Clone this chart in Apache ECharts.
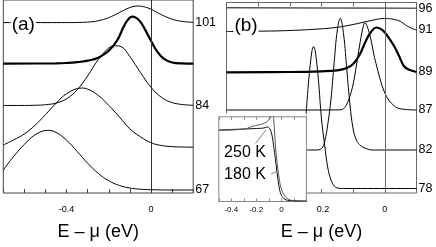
<!DOCTYPE html>
<html><head><meta charset="utf-8">
<script src="https://cdn.jsdelivr.net/npm/echarts/dist/echarts.min.js"></script>
<style>html,body{margin:0;padding:0;background:#fff}#c{width:436px;height:247px}</style>
</head><body><div id="c"></div>
<script>
// ---- Panel (a): spectra, [E - mu (eV), offset intensity (a.u.)] ----
const a101 = [[-0.7,171.3],[-0.4,171.3],[-0.35,171.4],[-0.3,171.8],[-0.25,173.1],[-0.2,176.3],[-0.15,181.4],[-0.1,186.4],[-0.06,188.0],[-0.02,186.4],[0,184.7],[0.05,179.2],[0.1,174.7],[0.15,172.4],[0.2,171.6]];
const aThick = [[-0.7,130],[-0.45,130.3],[-0.4,130.7],[-0.35,131.5],[-0.3,133],[-0.25,136],[-0.2,143],[-0.16,153.5],[-0.13,167],[-0.11,174],[-0.09,177.3],[-0.07,176],[-0.05,172],[-0.03,165],[0,153],[0.03,142],[0.06,135],[0.1,131.2],[0.15,130.2],[0.2,130]];
const a84 = [[-0.7,88],[-0.6,88],[-0.55,88.2],[-0.5,88.7],[-0.45,90.4],[-0.4,94.7],[-0.35,103.7],[-0.3,117.8],[-0.25,134.1],[-0.2,145.8],[-0.17,148],[-0.14,147],[-0.1,137],[-0.05,121.1],[0,106.2],[0.05,96.1],[0.1,90.9],[0.15,88.9],[0.2,88.2]];
const aMid = [[-0.7,48.2],[-0.65,53.5],[-0.6,59.4],[-0.55,68],[-0.5,78.8],[-0.45,90.2],[-0.4,99.8],[-0.33,105.5],[-0.3,104.4],[-0.25,98.1],[-0.2,88],[-0.15,76.5],[-0.1,64.5],[-0.05,56.5],[0,50.5],[0.05,47.7],[0.1,46.6],[0.15,46.2],[0.2,46]];
const a67 = [[-0.7,23],[-0.65,37],[-0.6,48.9],[-0.55,58.4],[-0.49,63],[-0.45,60.9],[-0.4,53.1],[-0.35,41.8],[-0.3,29.9],[-0.25,19.7],[-0.2,12.3],[-0.15,7.6],[-0.1,5],[-0.05,3.8],[0,3.3],[0.1,3],[0.2,3]];

// ---- Panel (b) ----
const b96 = [[-0.5,185.2],[-0.2,185],[0,184.9],[0.1,184.8]];
const b91 = [[-0.5,161.5],[-0.4,161.8],[-0.3,162.5],[-0.2,164.2],[-0.15,165.7],[-0.1,168.5],[-0.05,172],[0,174.5],[0.03,173.5],[0.05,171.5],[0.065,168],[0.09,164],[0.1,163]];
const b89 = [[-0.5,120.7],[-0.3,121],[-0.2,121.7],[-0.15,122.7],[-0.12,125],[-0.1,129],[-0.08,138],[-0.06,152],[-0.045,160.5],[-0.026,165.5],[-0.01,163.5],[0,160.5],[0.015,154],[0.03,146.5],[0.045,137],[0.06,127],[0.075,123.5],[0.1,121]];
const b87 = [[-0.5,83],[-0.2,83],[-0.14,83.2],[-0.13,84.5],[-0.12,89],[-0.11,97],[-0.1,109],[-0.09,127],[-0.08,147],[-0.07,164],[-0.063,170.3],[-0.055,166],[-0.045,155],[-0.035,139],[-0.025,126],[-0.015,114],[-0.005,104],[0.01,94],[0.025,88.5],[0.045,84.5],[0.1,83]];
const b82 = [[-0.5,43],[-0.22,43],[-0.2,44.5],[-0.19,51.5],[-0.18,69],[-0.17,94],[-0.16,130.5],[-0.15,163],[-0.141,174.7],[-0.13,158],[-0.12,123],[-0.11,88],[-0.1,64],[-0.09,53],[-0.08,48.5],[-0.07,46],[-0.055,44],[-0.04,43],[0.1,43]];
const b78 = [[-0.5,4.5],[-0.3,4.7],[-0.28,9],[-0.27,18],[-0.26,39],[-0.25,74],[-0.24,114],[-0.23,142.3],[-0.225,146.3],[-0.22,142.3],[-0.21,114],[-0.2,74],[-0.19,48],[-0.18,25],[-0.17,13],[-0.16,7],[-0.15,5],[-0.13,4.5],[0.1,4.5]];

// ---- Inset ----
const ins180 = [[-0.5,71.5],[-0.3,72.5],[-0.2,73],[-0.14,73.5],[-0.112,74.5],[-0.094,73],[-0.077,67.5],[-0.059,52.8],[-0.045,39.5],[-0.031,25.5],[-0.018,14.5],[-0.004,7.5],[0.02,3],[0.061,1],[0.2,0.5]];
const ins250 = [[-0.5,71],[-0.289,72.5],[-0.248,74.5],[-0.207,76],[-0.167,77],[-0.134,78.5],[-0.11,80.5],[-0.09,83.5],[-0.077,88.5],[-0.069,90],[-0.061,81.5],[-0.053,66.5],[-0.045,51.5],[-0.031,35.5],[-0.018,23.5],[-0.004,14.5],[0.023,6.5],[0.061,2],[0.118,0.5],[0.2,0.2]];

const labelsA = ['-0.4','0'];
const labelsB = ['-0.2','0'];
const labelsInset = ['-0.4','-0.2','0'];
const axisTitle = 'E \u2013 \u03bc (eV)';

const FONT = 'Liberation Sans, Arial, sans-serif';
function fmt(list){ return v => { const r = (Math.round(v*10)/10); const s = r === 0 ? '0' : r.toFixed(1); return list.indexOf(s) >= 0 ? s : ''; }; }

function line(name, data, gi, opts){
  const s = {type:'line', name:name, data:data, xAxisIndex: gi===0?0:(gi===1?1:3), yAxisIndex: gi,
    symbol:'none', showSymbol:false, smooth:0.4, silent:true, animation:false,
    lineStyle:{color:'#000', width:1}};
  if (opts && opts.label) {
    s.endLabel = {show:true, formatter: opts.label, color:'#000', fontSize:12.5, fontFamily:FONT, distance:2};
  }
  if (opts && opts.width) s.lineStyle.width = opts.width;
  if (opts && opts.color) s.lineStyle.color = opts.color;
  if (opts && opts.z) s.z = opts.z;
  if (opts && opts.zero) {
    s.markLine = {silent:true, symbol:['none','none'], label:{show:false}, animation:false,
      lineStyle:{color: opts.zero, width:1, type:'solid'}, data:[{xAxis:0}]};
  }
  return s;
}

const tickStyle = c => ({show:true, inside:true, length:4, lineStyle:{color:c, width:1}});

const chart = echarts.init(document.getElementById('c'), null, {renderer:'canvas'});
chart.setOption({
  animation:false,
  textStyle:{fontFamily:FONT},
  grid:[
    {left:3.3, top:-1, width:189.9, height:194, show:true, borderColor:'#444', borderWidth:1, backgroundColor:'transparent'},
    {left:226.5, top:2.5, width:190, height:190.5, show:true, borderColor:'#666', borderWidth:1, backgroundColor:'transparent'},
    {left:218.8, top:116.8, width:87.6, height:84.7, show:true, borderColor:'#888', borderWidth:1, backgroundColor:'transparent', z:60}
  ],
  xAxis:[
    {gridIndex:0, type:'value', min:-0.7, max:0.2, interval:0.1, axisLine:{show:false}, splitLine:{show:false},
     axisTick:tickStyle('#444'), axisLabel:{formatter:fmt(labelsA), fontSize:9, margin:12, color:'#000', showMinLabel:true, showMaxLabel:true},
     name:axisTitle, nameLocation:'middle', nameGap:30, nameTextStyle:{fontSize:18, color:'#000', fontFamily:FONT}},
    {gridIndex:1, type:'value', min:-0.5, max:0.1, interval:0.1, axisLine:{show:false}, splitLine:{show:false},
     axisTick:tickStyle('#666'), axisLabel:{formatter:fmt(labelsB), fontSize:9, margin:12, color:'#000'},
     name:axisTitle, nameLocation:'middle', nameGap:30, nameTextStyle:{fontSize:18, color:'#000', fontFamily:FONT}},
    {gridIndex:1, type:'value', position:'top', min:-0.5, max:0.1, interval:0.1, axisLine:{show:false}, splitLine:{show:false},
     axisTick:tickStyle('#666'), axisLabel:{show:false}},
    {gridIndex:2, type:'value', min:-0.5, max:0.2, interval:0.1, axisLine:{show:false}, splitLine:{show:false}, z:60,
     axisTick:{show:true, inside:true, length:3, lineStyle:{color:'#888'}}, axisLabel:{formatter:fmt(labelsInset), fontSize:8, margin:4, color:'#000'}},
    {gridIndex:2, type:'value', position:'top', min:-0.5, max:0.2, interval:0.1, axisLine:{show:false}, splitLine:{show:false}, z:60,
     axisTick:{show:true, inside:true, length:3, lineStyle:{color:'#888'}}, axisLabel:{show:false}}
  ],
  yAxis:[
    {gridIndex:0, type:'value', min:0, max:194, show:false},
    {gridIndex:1, type:'value', min:0, max:190.5, show:false},
    {gridIndex:2, type:'value', min:0, max:84.7, show:false}
  ],
  graphic:[
    {type:'rect', silent:true, z:50, shape:{x:213, y:113.5, width:93.5, height:89.5}, style:{fill:'#fff'}},
    {type:'rect', silent:true, z:50, shape:{x:213, y:203, width:103.5, height:18}, style:{fill:'#fff'}},
    {type:'text', silent:true, z:10, x:23.3, y:25, style:{text:'(a)', font:'19px '+FONT, fill:'#000', align:'center', verticalAlign:'middle', backgroundColor:'#fff', padding:[0,1]}},
    {type:'text', silent:true, z:10, x:246, y:26, style:{text:'(b)', font:'19px '+FONT, fill:'#000', align:'center', verticalAlign:'middle', backgroundColor:'#fff', padding:[0,1]}},
    {type:'text', silent:true, z:70, x:245, y:153, style:{text:'250 K', font:'16px '+FONT, fill:'#000', align:'center', verticalAlign:'middle'}},
    {type:'text', silent:true, z:70, x:245, y:175, style:{text:'180 K', font:'16px '+FONT, fill:'#000', align:'center', verticalAlign:'middle'}},
    {type:'line', silent:true, z:70, shape:{x1:255.5, y1:143.5, x2:266, y2:130}, style:{stroke:'#666', lineWidth:0.8}},
    {type:'line', silent:true, z:70, shape:{x1:271, y1:174, x2:276.5, y2:171.5}, style:{stroke:'#666', lineWidth:0.8}}
  ],
  series:[
    line('101', a101, 0, {label:'101', zero:'#333'}),
    line('a-thick', aThick, 0, {width:2.2}),
    line('84', a84, 0, {label:'84'}),
    line('a-mid', aMid, 0, {}),
    line('67', a67, 0, {label:'67'}),
    line('96', b96, 1, {label:'96', zero:'#666'}),
    line('91', b91, 1, {label:'91'}),
    line('89', b89, 1, {label:'89', width:2.2}),
    line('87', b87, 1, {label:'87'}),
    line('82', b82, 1, {label:'82'}),
    line('78', b78, 1, {label:'78'}),
    line('180 K', ins180, 2, {z:60, color:'#111', zero:'#555'}),
    line('250 K', ins250, 2, {z:60, color:'#555'})
  ]
});
</script></body></html>
